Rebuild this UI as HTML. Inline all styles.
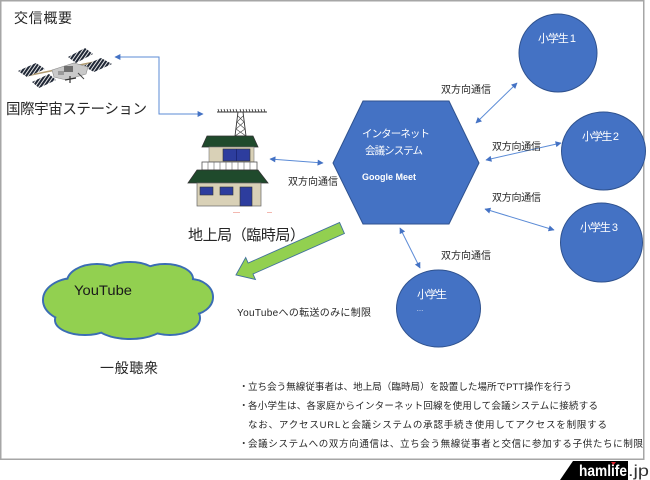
<!DOCTYPE html>
<html>
<head>
<meta charset="utf-8">
<style>
  html,body{margin:0;padding:0;background:#fff;}
  body{width:650px;height:480px;overflow:hidden;}
  svg{display:block;}
  text{font-family:"Liberation Sans","Noto Sans CJK JP",sans-serif;}
</style>
</head>
<body>
<svg width="650" height="480" viewBox="0 0 650 480" xmlns="http://www.w3.org/2000/svg">
  <defs>
    <marker id="ah" viewBox="0 0 10 10" refX="9" refY="5" markerWidth="7" markerHeight="6" markerUnits="userSpaceOnUse" orient="auto-start-reverse">
      <path d="M0,0 L10,5 L0,10 z" fill="#4472c4"/>
    </marker>
    <pattern id="stripes" width="3" height="3" patternUnits="userSpaceOnUse" patternTransform="rotate(35)">
      <rect width="3" height="3" fill="#1f2736"/>
      <rect width="1" height="3" fill="#e8e8e8"/>
    </pattern>
  </defs>

  <!-- frame -->
  <rect x="0.75" y="0.75" width="643" height="458.5" fill="#fff" stroke="#a6a6a6" stroke-width="1.5"/>

  <!-- title -->
  <text x="14" y="23" font-size="14" fill="#262626" textLength="58" lengthAdjust="spacing">交信概要</text>

  <!-- ISS -->
  <g>
    <line x1="26" y1="76" x2="104" y2="60" stroke="#b09a70" stroke-width="1.5"/>
    <polygon points="18,71 36,63 45,69 27,77" fill="url(#stripes)"/>
    <polygon points="32,82 49,74 56,80 39,88" fill="url(#stripes)"/>
    <polygon points="68,57 85,48 93,54 76,63" fill="url(#stripes)"/>
    <polygon points="83,66 101,58 112,64 94,72" fill="url(#stripes)"/>
    <polygon points="52,70 74,63 88,67 86,74 66,80 54,77" fill="#c9c9c9" stroke="#8a8a8a" stroke-width="0.6"/>
    <rect x="64" y="66" width="9" height="6" fill="#6e6e6e"/>
    <rect x="58" y="71" width="6" height="4" fill="#9a9a9a"/>
    <line x1="70" y1="76" x2="70" y2="83" stroke="#333" stroke-width="1.2"/>
    <line x1="65" y1="80" x2="76" y2="78" stroke="#333" stroke-width="1.2"/>
    <line x1="78" y1="73" x2="84" y2="79" stroke="#444" stroke-width="1"/>
  </g>
  <text x="6" y="114" font-size="14.5" fill="#262626" textLength="141" lengthAdjust="spacing">国際宇宙ステーション</text>

  <!-- ISS connector -->
  <polyline points="115,57 159,57 159,114 203,114" fill="none" stroke="#5b8bd6" stroke-width="1" marker-start="url(#ah)" marker-end="url(#ah)"/>

  <!-- House -->
  <g>
    <!-- antenna -->
    <line x1="217" y1="112" x2="267" y2="112" stroke="#333" stroke-width="1"/>
    <path d="M218,109 L219,112 M221,109 L222,112 M224,109 L225,112 M227,109 L228,112 M230,109 L231,112 M233,109 L234,112 M236,109 L237,112 M240,109 L241,112 M243,109 L244,112 M246,109 L247,112 M249,109 L250,112 M252,109 L253,112 M255,109 L256,112 M258,109 L259,112 M261,109 L262,112 M264,109 L265,112" stroke="#333" stroke-width="0.8"/>
    <!-- tower -->
    <polygon points="238,112 243,112 246,136 235,136" fill="#fff" stroke="#333" stroke-width="0.9"/>
    <path d="M238,116 L244,122 M243,116 L237,122 M237,122 L245,129 M244,122 L236,129 M236,129 L246,136 M245,129 L235,136" stroke="#444" stroke-width="0.6"/>
    <!-- upper roof -->
    <polygon points="207,136 253,136 258,147 202,147" fill="#1f4a2c" stroke="#333" stroke-width="0.8"/>
    <!-- upper wall -->
    <rect x="209" y="147" width="45" height="15" fill="#d9d1b7" stroke="#777" stroke-width="0.6"/>
    <rect x="223" y="149" width="27" height="12" fill="#2d3d9e" stroke="#333" stroke-width="0.6"/>
    <line x1="236.5" y1="149" x2="236.5" y2="161" stroke="#1a2470" stroke-width="0.8"/>
    <!-- balcony -->
    <rect x="202" y="162" width="55" height="8" fill="#fff" stroke="#555" stroke-width="0.8"/>
    <path d="M208,162 V170 M214,162 V170 M220,162 V170 M226,162 V170 M232,162 V170 M238,162 V170 M244,162 V170 M250,162 V170" stroke="#666" stroke-width="0.6"/>
    <!-- lower roof -->
    <polygon points="197,170 258,170 268,183 188,183" fill="#1f4a2c" stroke="#333" stroke-width="0.8"/>
    <!-- lower wall -->
    <rect x="197" y="183" width="64" height="23" fill="#d9d1b7" stroke="#666" stroke-width="0.7"/>
    <rect x="200" y="187" width="13" height="8" fill="#2d3d9e" stroke="#333" stroke-width="0.6"/>
    <rect x="220" y="187" width="13" height="8" fill="#2d3d9e" stroke="#333" stroke-width="0.6"/>
    <rect x="240" y="187" width="12" height="19" fill="#2d3d9e" stroke="#333" stroke-width="0.6"/>
    <!-- faint marks -->
    <rect x="233" y="212" width="7" height="1" fill="#f3b8b0"/>
    <rect x="267" y="212" width="5" height="1" fill="#f3b8b0"/>
  </g>
  <text x="188" y="240" font-size="15" fill="#262626" textLength="117" lengthAdjust="spacing">地上局（臨時局）</text>

  <!-- house <-> hex -->
  <line x1="270" y1="159" x2="323" y2="163" stroke="#5b8bd6" stroke-width="1" marker-start="url(#ah)" marker-end="url(#ah)"/>
  <text x="288" y="185" font-size="10" fill="#262626" textLength="50" lengthAdjust="spacing">双方向通信</text>

  <!-- Hexagon -->
  <polygon points="363,101 449,101 479,163 449,224 363,224 333,163" fill="#4472c4" stroke="#2f528f" stroke-width="1"/>
  <text x="362" y="137" font-size="10.5" fill="#fff" textLength="68" lengthAdjust="spacing">インターネット</text>
  <text x="365" y="154" font-size="10.5" fill="#fff" textLength="58" lengthAdjust="spacing">会議システム</text>
  <text x="362" y="180" font-size="9.5" font-weight="bold" fill="#fff" textLength="54" lengthAdjust="spacingAndGlyphs">Google Meet</text>

  <!-- Circles -->
  <ellipse cx="558" cy="53" rx="39" ry="39" fill="#4472c4" stroke="#2f528f" stroke-width="1"/>
  <text x="538" y="42" font-size="11" fill="#fff" textLength="38" lengthAdjust="spacing">小学生 1</text>

  <ellipse cx="603.5" cy="151" rx="42" ry="39" fill="#4472c4" stroke="#2f528f" stroke-width="1"/>
  <text x="582" y="140" font-size="11" fill="#fff" textLength="37" lengthAdjust="spacing">小学生 2</text>

  <ellipse cx="601.5" cy="242.5" rx="41" ry="39.5" fill="#4472c4" stroke="#2f528f" stroke-width="1"/>
  <text x="580" y="231" font-size="11" fill="#fff" textLength="38" lengthAdjust="spacing">小学生 3</text>

  <ellipse cx="438.5" cy="308.5" rx="42" ry="38.5" fill="#4472c4" stroke="#2f528f" stroke-width="1"/>
  <text x="417" y="298" font-size="11" fill="#fff" textLength="30" lengthAdjust="spacing">小学生</text>
  <text x="416.5" y="311" font-size="7" fill="#fff">…</text>

  <!-- hex <-> circles -->
  <line x1="476" y1="123" x2="517" y2="83" stroke="#5b8bd6" stroke-width="1" marker-start="url(#ah)" marker-end="url(#ah)"/>
  <text x="441" y="93" font-size="10" fill="#262626" textLength="50" lengthAdjust="spacing">双方向通信</text>

  <line x1="486" y1="160" x2="561" y2="143" stroke="#5b8bd6" stroke-width="1" marker-start="url(#ah)" marker-end="url(#ah)"/>
  <text x="492" y="150" font-size="10" fill="#262626" textLength="49" lengthAdjust="spacing">双方向通信</text>

  <line x1="485" y1="209" x2="554" y2="230" stroke="#5b8bd6" stroke-width="1" marker-start="url(#ah)" marker-end="url(#ah)"/>
  <text x="492" y="201" font-size="10" fill="#262626" textLength="49" lengthAdjust="spacing">双方向通信</text>

  <line x1="400" y1="228" x2="420" y2="268" stroke="#5b8bd6" stroke-width="1" marker-start="url(#ah)" marker-end="url(#ah)"/>
  <text x="441" y="259" font-size="10" fill="#262626" textLength="50" lengthAdjust="spacing">双方向通信</text>

  <!-- Green arrow -->
  <g transform="translate(342,228) rotate(156.1)">
    <polygon points="0,-6 100,-6 100,-12 116,0 100,12 100,6 0,6" fill="#92d050" stroke="#41719c" stroke-width="0.9"/>
  </g>

  <!-- Cloud -->
  <g stroke="#3b6db3" stroke-width="2">
    <ellipse cx="75" cy="300" rx="32" ry="22" fill="#92d050"/>
    <ellipse cx="97" cy="282" rx="30" ry="18" fill="#92d050"/>
    <ellipse cx="130" cy="276" rx="28" ry="14" fill="#92d050"/>
    <ellipse cx="165" cy="279" rx="28" ry="15" fill="#92d050"/>
    <ellipse cx="190" cy="297" rx="23" ry="18" fill="#92d050"/>
    <ellipse cx="170" cy="318" rx="30" ry="17" fill="#92d050"/>
    <ellipse cx="130" cy="324" rx="35" ry="15" fill="#92d050"/>
    <ellipse cx="85" cy="320" rx="30" ry="15" fill="#92d050"/>
  </g>
  <g fill="#92d050">
    <ellipse cx="75" cy="300" rx="31" ry="21"/>
    <ellipse cx="97" cy="282" rx="29" ry="17"/>
    <ellipse cx="130" cy="276" rx="27" ry="13"/>
    <ellipse cx="165" cy="279" rx="27" ry="14"/>
    <ellipse cx="190" cy="297" rx="22" ry="17"/>
    <ellipse cx="170" cy="318" rx="29" ry="16"/>
    <ellipse cx="130" cy="324" rx="34" ry="14"/>
    <ellipse cx="85" cy="320" rx="29" ry="14"/>
    <ellipse cx="128" cy="300" rx="70" ry="25"/>
  </g>
  <text x="74" y="295" font-size="14" fill="#1a1a1a" textLength="58" lengthAdjust="spacingAndGlyphs">YouTube</text>

  <text x="100" y="373" font-size="14" fill="#262626" textLength="58" lengthAdjust="spacing">一般聴衆</text>

  <text x="237" y="316" font-size="10" fill="#262626" textLength="134" lengthAdjust="spacing">YouTubeへの転送のみに制限</text>

  <!-- bullets -->
  <g font-size="9.5" fill="#262626">
    <text x="239" y="390">・</text>
    <text x="248" y="390" textLength="324" lengthAdjust="spacing">立ち会う無線従事者は、地上局（臨時局）を設置した場所でPTT操作を行う</text>
    <text x="239" y="409">・</text>
    <text x="248" y="409" textLength="350" lengthAdjust="spacing">各小学生は、各家庭からインターネット回線を使用して会議システムに接続する</text>
    <text x="248" y="428" textLength="359" lengthAdjust="spacing">なお、アクセスURLと会議システムの承認手続き使用してアクセスを制限する</text>
    <text x="239" y="447">・</text>
    <text x="248" y="447" textLength="395" lengthAdjust="spacing">会議システムへの双方向通信は、立ち会う無線従事者と交信に参加する子供たちに制限</text>
  </g>

  <!-- hamlife logo -->
  <polygon points="573,461 628,461 628,480 560,480" fill="#000"/>
  <text x="579" y="476" font-size="16" font-weight="bold" fill="#fff" textLength="48" lengthAdjust="spacingAndGlyphs">hamlife</text>
  <polygon points="611,462 616,462 613.5,465" fill="#e0202a"/>
  <text x="628" y="476" font-size="16" fill="#333" textLength="21" lengthAdjust="spacingAndGlyphs">.jp</text>
</svg>
</body>
</html>
